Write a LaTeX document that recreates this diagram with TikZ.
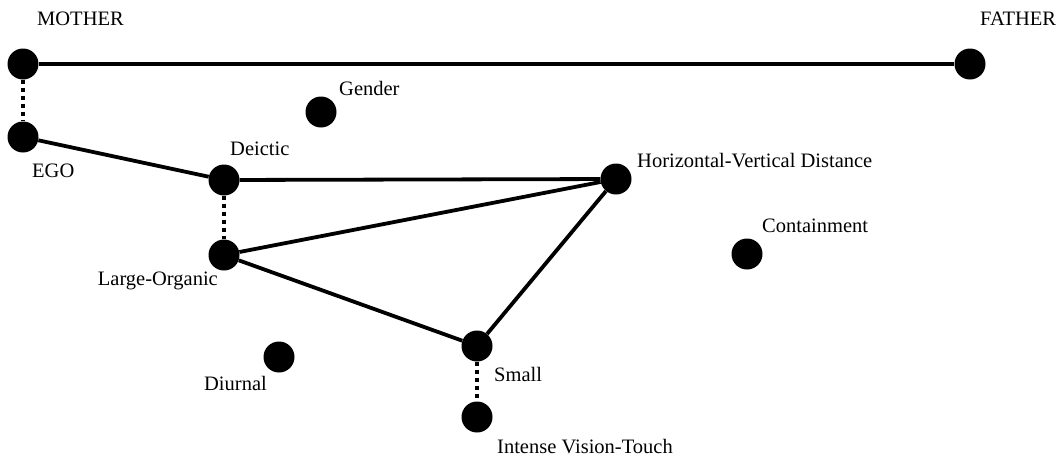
\documentclass[tikz,border=0pt]{standalone}
\usepackage{fontspec}
\setmainfont{Liberation Serif}
\usetikzlibrary{positioning}

\tikzset{
  dot/.style={circle, fill=black, inner sep=0, minimum size=31pt},
  lab/.style={inner sep=0, font=\fontsize{20.5}{24}\selectfont},
  tie/.style={line width=3.8pt},
  dots/.style={line width=4.5pt, dash pattern=on 4pt off 4pt}
}

\begin{document}
\begin{tikzpicture}[x=1pt, y=-1pt]
\useasboundingbox (0,0) rectangle (1062,456);
\node[dot] (mother) at (23,64) {};
\node[dot] (father) at (970,64) {};
\node[dot] (gender) at (321,112) {};
\node[dot] (ego) at (23,137) {};
\node[dot] (deictic) at (224,180) {};
\node[dot] (hvd) at (616,179) {};
\node[dot] (contain) at (747,254) {};
\node[dot] (large) at (224,255) {};
\node[dot] (small) at (477,346) {};
\node[dot] (diurnal) at (279,357) {};
\node[dot] (intense) at (477,417) {};
% Labels:
\node[lab, anchor=base west] (mothertxt) at (37,25) {MOTHER};
\node[lab, anchor=base west] (fathertxt) at (980,25) {FATHER};
\node[lab, anchor=base west] (gendertxt) at (339,95) {Gender};
\node[lab, anchor=base west] (egotxt) at (32,177) {EGO};
\node[lab, anchor=base west] (deictictxt) at (230,155) {Deictic};
\node[lab, anchor=base west] (hvdtxt) at (637,167) {Horizontal-Vertical Distance};
\node[lab, anchor=base west] (containtxt) at (762,232) {Containment};
\node[lab, anchor=base east] (largetxt) at (218,285) {Large-Organic};
\node[lab, anchor=base west] (smalltxt) at (494,381) {Small};
\node[lab, anchor=base east] (diurnaltxt) at (267,390) {Diurnal};
\node[lab, anchor=base west] (intensetxt) at (497,453) {Intense Vision-Touch};
% Links:
\draw[tie] (mother) -- (father);
\draw[tie] (ego) -- (deictic);
\draw[tie] (deictic) -- (hvd);
\draw[tie] (large) -- (hvd);
\draw[tie] (large) -- (small);
\draw[tie] (small) -- (hvd);
\draw[dots] (mother) -- (ego);
\draw[dots] (deictic) -- (large);
\draw[dots] (small) -- (intense);
\end{tikzpicture}
\end{document}
